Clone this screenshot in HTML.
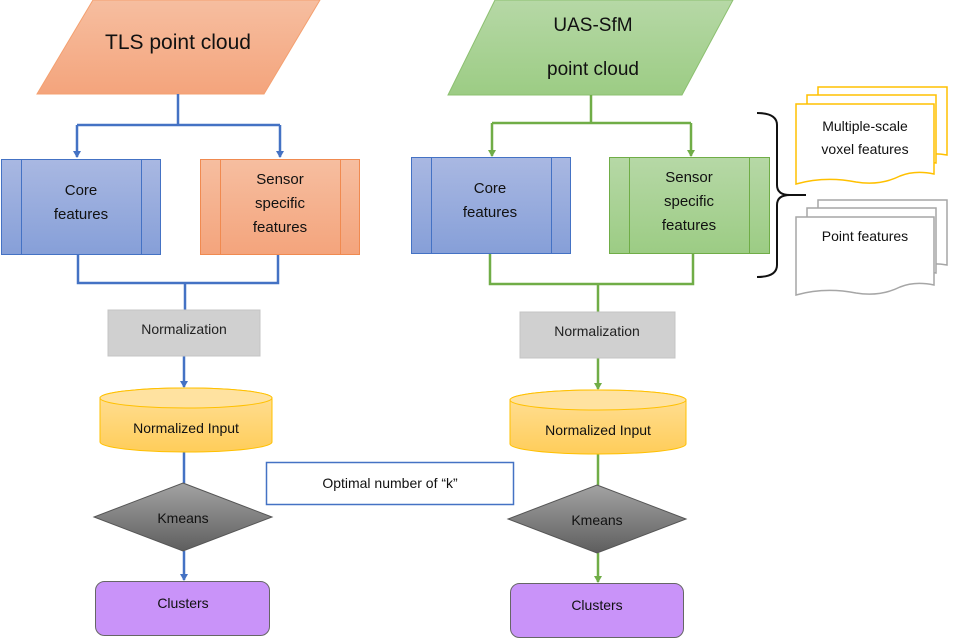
<!DOCTYPE html>
<html><head><meta charset="utf-8"><style>
html,body{margin:0;padding:0;background:#fff;}
svg{display:block;font-family:"Liberation Sans",sans-serif;}
</style></head><body>
<svg width="960" height="639" viewBox="0 0 960 639" xmlns="http://www.w3.org/2000/svg">
<defs>
<linearGradient id="og" x1="0" y1="0" x2="0" y2="1"><stop offset="0" stop-color="#f6bea0"/><stop offset="1" stop-color="#f4a47c"/></linearGradient>
<linearGradient id="gg" x1="0" y1="0" x2="0" y2="1"><stop offset="0" stop-color="#b6d8a6"/><stop offset="1" stop-color="#9ccc84"/></linearGradient>
<linearGradient id="bg" x1="0" y1="0" x2="0" y2="1"><stop offset="0" stop-color="#a9b8e2"/><stop offset="1" stop-color="#869fd8"/></linearGradient>
<linearGradient id="yg" x1="0" y1="0" x2="0" y2="1"><stop offset="0" stop-color="#ffe09a"/><stop offset="1" stop-color="#ffcd5a"/></linearGradient>
<linearGradient id="dg" x1="0" y1="0" x2="0" y2="1"><stop offset="0" stop-color="#a3a3a3"/><stop offset="1" stop-color="#5e5e5e"/></linearGradient>
<marker id="ab" markerWidth="8" markerHeight="8" refX="6" refY="4" orient="auto" markerUnits="userSpaceOnUse"><path d="M0,0 L7,4 L0,8z" fill="#4472c4"/></marker>
<marker id="ag" markerWidth="8" markerHeight="8" refX="6" refY="4" orient="auto" markerUnits="userSpaceOnUse"><path d="M0,0 L7,4 L0,8z" fill="#70ad47"/></marker>
</defs>

<!-- LEFT -->
<polygon points="93,0 320,0 264,94 37,94" fill="url(#og)" stroke="#f4a070" stroke-width="1"/>
<text x="178" y="49" font-size="21" text-anchor="middle" fill="#111">TLS point cloud</text>
<g fill="none" stroke="#4472c4" stroke-width="2.5">
<path d="M178,94 V125 M77,125 H280"/>
<path d="M77,125 V157" marker-end="url(#ab)"/>
<path d="M280,125 V157" marker-end="url(#ab)"/>
<path d="M78,255 V283 H278 V255 M185,283 V310"/>
<path d="M184,356 V387" marker-end="url(#ab)"/>
<path d="M184,452 V483"/>
<path d="M184,551 V580" marker-end="url(#ab)"/>
</g>
<rect x="1.5" y="159.5" width="159" height="95" fill="url(#bg)" stroke="#4472c4"/>
<path d="M21.5,160 V255 M141.5,160 V255" stroke="#4472c4"/>
<text x="81" y="195" font-size="15" text-anchor="middle" fill="#111">Core</text>
<text x="81" y="219" font-size="15" text-anchor="middle" fill="#111">features</text>
<rect x="200.5" y="159.5" width="159" height="95" fill="url(#og)" stroke="#f08a50"/>
<path d="M220.5,160 V255 M340.5,160 V255" stroke="#f08a50"/>
<text x="280" y="184" font-size="15" text-anchor="middle" fill="#111">Sensor</text>
<text x="280" y="208" font-size="15" text-anchor="middle" fill="#111">specific</text>
<text x="280" y="232" font-size="15" text-anchor="middle" fill="#111">features</text>
<rect x="108" y="310" width="152" height="46" fill="#d0d0d0" stroke="#c4c4c4"/>
<text x="184" y="334" font-size="14" text-anchor="middle" fill="#222">Normalization</text>
<path d="M100,398 A86,10 0 0 1 272,398 V442 A86,10 0 0 1 100,442 Z" fill="url(#yg)" stroke="#ffc000"/>
<ellipse cx="186" cy="398" rx="86" ry="10" fill="#ffe2a0" stroke="#ffc000"/>
<text x="186" y="433" font-size="14" text-anchor="middle" fill="#111">Normalized Input</text>
<polygon points="183,483 272,517 183,551 94,517" fill="url(#dg)" stroke="#555"/>
<text x="183" y="523" font-size="14" text-anchor="middle" fill="#111">Kmeans</text>
<rect x="95.5" y="581.5" width="174" height="54" rx="9" fill="#c993f9" stroke="#666"/>
<text x="183" y="608" font-size="14" text-anchor="middle" fill="#111">Clusters</text>

<rect x="266.5" y="462.5" width="247" height="42" fill="#fff" stroke="#4472c4" stroke-width="1.5"/>
<text x="390" y="488" font-size="14" text-anchor="middle" fill="#111">Optimal number of “k”</text>

<!-- RIGHT -->
<polygon points="495,0 733,0 682,95 448,95" fill="url(#gg)" stroke="#8cc070" stroke-width="1"/>
<text x="593" y="31" font-size="19" text-anchor="middle" fill="#111">UAS-SfM</text>
<text x="593" y="75" font-size="19" text-anchor="middle" fill="#111">point cloud</text>
<g fill="none" stroke="#70ad47" stroke-width="2.5">
<path d="M591,95 V123 M492,123 H691"/>
<path d="M492,123 V156" marker-end="url(#ag)"/>
<path d="M691,123 V156" marker-end="url(#ag)"/>
<path d="M490,254 V284 H693 V254 M598,284 V312"/>
<path d="M598,358 V389" marker-end="url(#ag)"/>
<path d="M598,454 V485"/>
<path d="M598,553 V582" marker-end="url(#ag)"/>
</g>
<rect x="411.5" y="157.5" width="159" height="96" fill="url(#bg)" stroke="#4472c4"/>
<path d="M431.5,158 V254 M551.5,158 V254" stroke="#4472c4"/>
<text x="490" y="193" font-size="15" text-anchor="middle" fill="#111">Core</text>
<text x="490" y="217" font-size="15" text-anchor="middle" fill="#111">features</text>
<rect x="609.5" y="157.5" width="160" height="96" fill="url(#gg)" stroke="#70ad47"/>
<path d="M629.5,158 V254 M749.5,158 V254" stroke="#70ad47"/>
<text x="689" y="182" font-size="15" text-anchor="middle" fill="#111">Sensor</text>
<text x="689" y="206" font-size="15" text-anchor="middle" fill="#111">specific</text>
<text x="689" y="230" font-size="15" text-anchor="middle" fill="#111">features</text>
<rect x="520" y="312" width="155" height="46" fill="#d0d0d0" stroke="#c4c4c4"/>
<text x="597" y="336" font-size="14" text-anchor="middle" fill="#222">Normalization</text>
<path d="M510,400 A88,10 0 0 1 686,400 V444 A88,10 0 0 1 510,444 Z" fill="url(#yg)" stroke="#ffc000"/>
<ellipse cx="598" cy="400" rx="88" ry="10" fill="#ffe2a0" stroke="#ffc000"/>
<text x="598" y="435" font-size="14" text-anchor="middle" fill="#111">Normalized Input</text>
<polygon points="597,485 686,519 597,553 508,519" fill="url(#dg)" stroke="#555"/>
<text x="597" y="525" font-size="14" text-anchor="middle" fill="#111">Kmeans</text>
<rect x="510.5" y="583.5" width="173" height="54" rx="9" fill="#c993f9" stroke="#666"/>
<text x="597" y="610" font-size="14" text-anchor="middle" fill="#111">Clusters</text>

<!-- brace -->
<path d="M757,113 Q777,113 777,125 V185 Q777,195 790,195 H806 M790,195 Q777,195 777,205 V265 Q777,277 757,277" fill="none" stroke="#111" stroke-width="2"/>

<!-- doc stacks -->
<g fill="#fff" stroke="#ffc000" stroke-width="1.5">
<path d="M818,87 H947 V155 Q930,152 918,157 Q900,165 880,160 Q850,152 818,158 Z"/>
<path d="M807,95 H936 V163 Q919,160 907,165 Q889,173 869,168 Q839,160 807,166 Z"/>
<path d="M796,104 H934 V174 Q915,170 900,176 Q880,186 856,182 Q825,176 796,184 Z"/>
</g>
<text x="865" y="131" font-size="14" text-anchor="middle" fill="#111">Multiple-scale</text>
<text x="865" y="154" font-size="14" text-anchor="middle" fill="#111">voxel features</text>
<g fill="#fff" stroke="#a6a6a6" stroke-width="1.5">
<path d="M818,200 H947 V265 Q930,262 918,267 Q900,275 880,270 Q850,262 818,268 Z"/>
<path d="M807,208 H936 V273 Q919,270 907,275 Q889,283 869,278 Q839,270 807,276 Z"/>
<path d="M796,217 H934 V285 Q915,281 900,287 Q880,297 856,293 Q825,287 796,295 Z"/>
</g>
<text x="865" y="241" font-size="14" text-anchor="middle" fill="#111">Point features</text>
</svg>
</body></html>
